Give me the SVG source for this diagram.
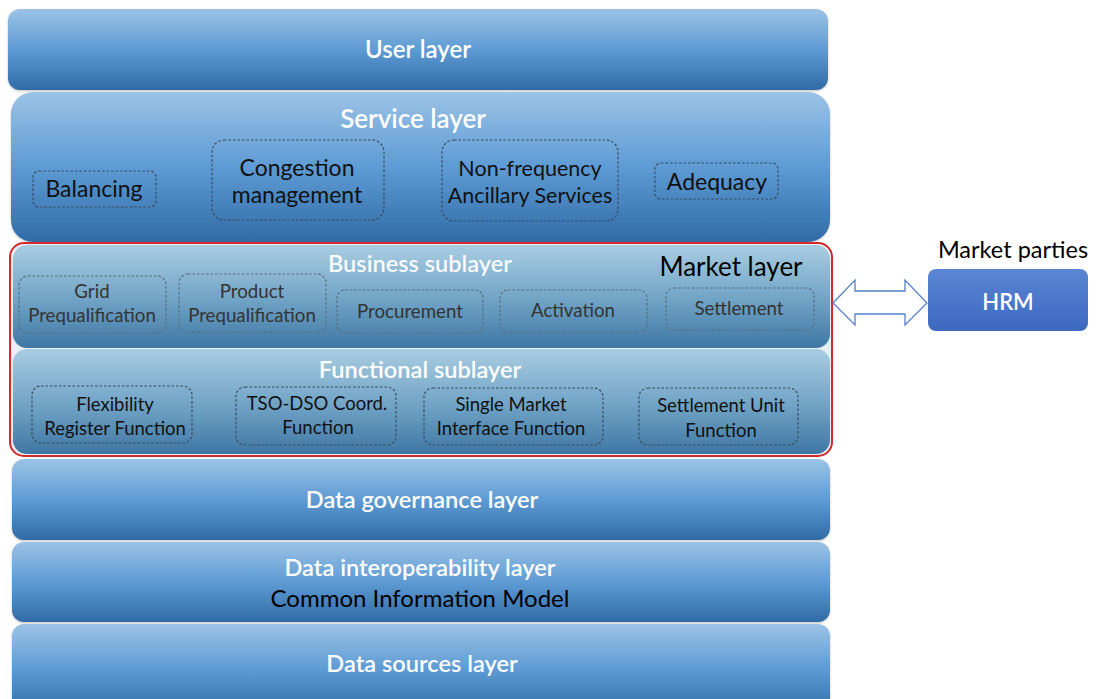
<svg xmlns="http://www.w3.org/2000/svg" width="1096" height="699" viewBox="0 0 1096 699">
<defs>
<linearGradient id="gL" x1="0" y1="0" x2="0" y2="1">
<stop offset="0" stop-color="#9cc3e6"/><stop offset="0.5" stop-color="#5e9bd4"/><stop offset="1" stop-color="#306ba7"/>
</linearGradient>
<linearGradient id="gS" x1="0" y1="0" x2="0" y2="1">
<stop offset="0" stop-color="#a9cde1"/><stop offset="0.5" stop-color="#74a6c8"/><stop offset="1" stop-color="#3f77a3"/>
</linearGradient>
<linearGradient id="gH" x1="0" y1="0" x2="0" y2="1">
<stop offset="0" stop-color="#5a86d4"/><stop offset="1" stop-color="#3d68c0"/>
</linearGradient>
<filter id="sh" x="-5%" y="-10%" width="110%" height="130%">
<feDropShadow dx="0" dy="1" stdDeviation="1" flood-color="#000" flood-opacity="0.25"/>
</filter>
</defs>
<style>
text{font-family:Lato,"Open Sans","Liberation Sans",sans-serif;text-anchor:middle}
.lay{fill:url(#gL);filter:url(#sh)}
.sub{fill:url(#gS)}
.wt{fill:#fff;font-size:23.6px;font-weight:600}
.box{fill:none;stroke:#3a4a5a;stroke-width:1.2;stroke-dasharray:2.5 2}
.boxl{fill:none;stroke:#5b6b7b;stroke-width:1.2;stroke-dasharray:2.5 2}
.it{fill:#111;font-size:23px}
.bi{fill:#333;font-size:18.7px}
.fi{fill:#111;font-size:18.5px}
</style>
<rect width="1096" height="699" fill="#fff"/>

<g id="user-layer">
<rect class="lay" x="8" y="9" width="820" height="81" rx="12"/>
<text class="wt" x="418" y="58" style="font-size:24px">User layer</text>
</g>

<g id="service-layer">
<rect class="lay" x="11" y="92" width="819" height="150" rx="22"/>
<text class="wt" x="413" y="128" style="font-size:26px">Service layer</text>
<g id="balancing"><rect class="box" x="33" y="171" width="123" height="36" rx="6"/><text class="it" x="94" y="197">Balancing</text></g>
<g id="congestion"><rect class="box" x="212" y="140" width="172" height="80" rx="12"/><text class="it" x="297" y="176">Congestion</text><text class="it" x="297" y="203">management</text></g>
<g id="nonfreq"><rect class="box" x="442" y="140" width="176" height="81" rx="12"/><text class="it" x="530" y="176" style="font-size:21.5px">Non-frequency</text><text class="it" x="530" y="203" style="font-size:21.5px">Ancillary Services</text></g>
<g id="adequacy"><rect class="box" x="655" y="163" width="123" height="36" rx="6"/><text class="it" x="717" y="190">Adequacy</text></g>
</g>

<g id="market-layer">
<rect x="10" y="243" width="822" height="213" rx="14" fill="#e8eef3" stroke="#d42a2a" stroke-width="2"/>
<g id="business-sublayer">
<rect class="sub" x="13" y="245" width="817" height="103" rx="14"/>
<text class="wt" x="420" y="272" fill-opacity="0.95">Business sublayer</text>
<text x="731" y="276" font-size="26" fill="#000">Market layer</text>
<g id="grid-preq"><rect class="boxl" x="19" y="276" width="147" height="57" rx="9"/><text class="bi" x="92" y="298">Grid</text><text class="bi" x="92" y="322">Prequalification</text></g>
<g id="prod-preq"><rect class="boxl" x="179" y="274" width="147" height="58" rx="9"/><text class="bi" x="252" y="298">Product</text><text class="bi" x="252" y="322">Prequalification</text></g>
<g id="procurement"><rect class="boxl" x="337" y="290" width="146" height="43" rx="8"/><text class="bi" x="410" y="318">Procurement</text></g>
<g id="activation"><rect class="boxl" x="500" y="290" width="147" height="42" rx="8"/><text class="bi" x="573" y="317">Activation</text></g>
<g id="settlement"><rect class="boxl" x="666" y="288" width="148" height="42" rx="8"/><text class="bi" x="739" y="315">Settlement</text></g>
</g>
<g id="functional-sublayer">
<rect class="sub" x="13" y="349" width="817" height="105" rx="14"/>
<text class="wt" x="420" y="378">Functional sublayer</text>
<g id="flex-reg"><rect class="box" x="32" y="386" width="160" height="57" rx="9"/><text class="fi" x="115" y="411">Flexibility</text><text class="fi" x="115" y="435">Register Function</text></g>
<g id="tso-dso"><rect class="box" x="236" y="387" width="160" height="58" rx="9"/><text class="fi" x="317" y="410">TSO-DSO  Coord.</text><text class="fi" x="318" y="434">Function</text></g>
<g id="smi"><rect class="box" x="424" y="388" width="179" height="57" rx="9"/><text class="fi" x="511" y="411">Single Market</text><text class="fi" x="511" y="435">Interface Function</text></g>
<g id="suf"><rect class="box" x="639" y="388" width="159" height="57" rx="9"/><text class="fi" x="721" y="412">Settlement Unit</text><text class="fi" x="721" y="437">Function</text></g>
</g>
</g>

<g id="data-governance-layer">
<rect class="lay" x="12" y="459" width="818" height="81" rx="12"/>
<text class="wt" x="422" y="508">Data governance layer</text>
</g>
<g id="data-interop-layer">
<rect class="lay" x="12" y="542" width="818" height="80" rx="12"/>
<text class="wt" x="420" y="576">Data interoperability layer</text>
<text x="420" y="607" font-size="24" fill="#000">Common Information Model</text>
</g>
<g id="data-sources-layer">
<rect class="lay" x="12" y="624" width="818" height="90" rx="12"/>
<text class="wt" x="422" y="672">Data sources layer</text>
</g>

<g id="market-parties">
<text x="1013" y="258" font-size="23.5" fill="#000">Market parties</text>
<g id="hrm"><rect x="928" y="269" width="160" height="62" rx="8" fill="url(#gH)"/><text x="1008" y="310" font-size="22" font-weight="600" fill="#fff">HRM</text></g>
</g>

<g id="connectors">
<path d="M833,303 L855,280 L855,291 L905,291 L905,280 L927,303 L905,325 L905,314 L855,314 L855,325 Z" fill="#fff" stroke="#5580c8" stroke-width="1.3"/>
</g>
</svg>
